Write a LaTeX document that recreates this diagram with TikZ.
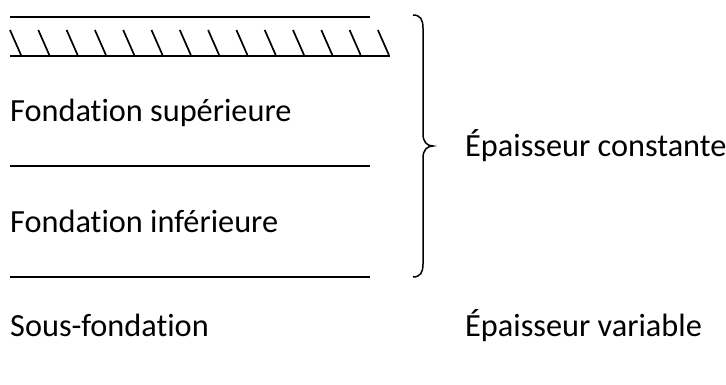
\documentclass[tikz,border=0pt]{standalone}
\usepackage{fontspec}
\setmainfont{Carlito}[Ligatures=NoCommon]
\begin{document}
\begin{tikzpicture}[x=1pt,y=-1pt,
  layer/.style={line width=2.6pt},
  hatchline/.style={line width=1.7pt},
  bracestroke/.style={line width=1.5pt},
  lbl/.style={anchor=base west,inner sep=0pt,font=\fontsize{32.3}{38}\selectfont}]
\useasboundingbox (0,0) rectangle (726,385);
% surface and layer boundaries
\draw[layer] (10,17) -- (370,17);
\draw[layer] (10,56) -- (390,56);
\draw[layer] (10,166) -- (370,166);
\draw[layer] (10,277) -- (370,277);
% hatching above the upper foundation
\foreach \k in {0,...,13}
  \draw[hatchline] ({10+28.3*\k},30) -- ({21+28.3*\k},55);
% brace grouping the two foundation layers
\draw[bracestroke] (413,15) .. controls (420,15) and (423,19) .. (423,28)
  -- (423,134) .. controls (423,142) and (427,146) .. (433,146)
  .. controls (427,146) and (423,150) .. (423,158)
  -- (423,264) .. controls (423,273) and (420,277) .. (413,277);
% labels
\node[lbl] (sup) at (10,122) {Fondation supérieure};
\node[lbl] (inf) at (10,232) {Fondation inférieure};
\node[lbl] (sous) at (10,336) {Sous-fondation};
\node[lbl] (const) at (465,157) {Épaisseur constante};
\node[lbl] (var) at (465,336) {Épaisseur variable};
\end{tikzpicture}
\end{document}
